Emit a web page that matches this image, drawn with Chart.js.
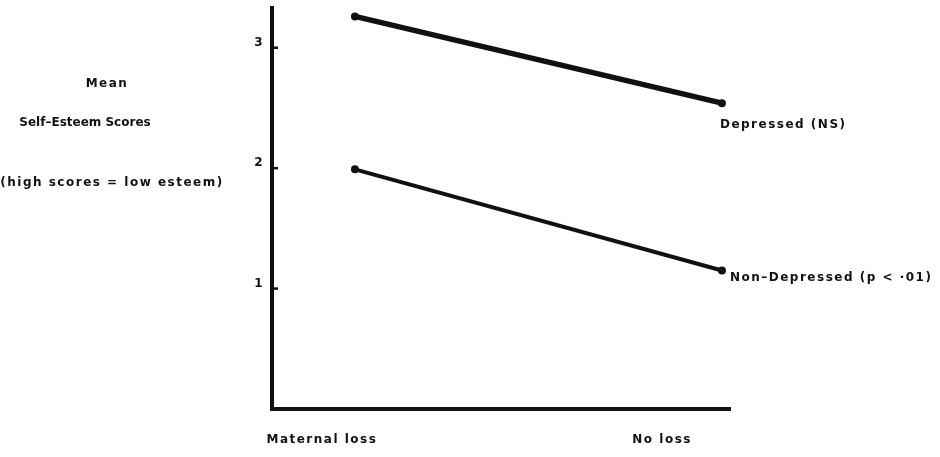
<!DOCTYPE html>
<html>
<head>
<meta charset="utf-8">
<script src="https://cdn.jsdelivr.net/npm/chart.js@4"></script>
<style>
  html, body { margin: 0; padding: 0; background: #fff; }
  canvas { display: block; }
</style>
</head>
<body>
<canvas id="chart" width="940" height="457"></canvas>
<script>
const categories = ["Maternal loss", "No loss"];
const depressed = [3.26, 2.54];
const nonDepressed = [1.99, 1.15];
const yTicks = [1, 2, 3];
const seriesLabels = ["Depressed (NS)", "Non\u2013Depressed (p < \u00b701)"];
const yTitleLines = ["Mean", "Self\u2013Esteem Scores", "(high scores = low esteem)"];

const ink = "#111";
const font = { family: "'DejaVu Sans', sans-serif", size: 12, weight: "bold" };
const fontCss = "bold 12px 'DejaVu Sans', sans-serif";
const spacing = "1.5px";

// the original type is loosely set, widen it a touch
const spacingPlugin = {
    id: "spacing",
    beforeLayout(chart) {
        chart.ctx.letterSpacing = spacing;
    },
    beforeDraw(chart) {
        chart.ctx.letterSpacing = spacing;
    },
};

// left-hand title, drawn as free text like the original
const yTitlePlugin = {
    id: "yTitle",
    afterDraw(chart) {
        const ctx = chart.ctx;
        const spots = [[107, 84], [85, 123], [112, 183]];
        const tracking = ["1.5px", "0px", "1.5px"];
        ctx.save();
        ctx.font = fontCss;
        ctx.fillStyle = ink;
        ctx.textAlign = "center";
        ctx.textBaseline = "middle";
        yTitleLines.forEach((line, i) => {
            ctx.letterSpacing = tracking[i];
            ctx.fillText(line, spots[i][0], spots[i][1]);
        });
        ctx.restore();
    },
};

// short tick marks on the inside of the y axis, plus series labels at line ends
const marksPlugin = {
    id: "marks",
    afterDatasetsDraw(chart) {
        const ctx = chart.ctx;
        const y = chart.scales.y;
        const left = chart.chartArea.left;
        ctx.save();
        ctx.strokeStyle = ink;
        ctx.lineWidth = 2.5;
        yTicks.forEach((v) => {
            const py = y.getPixelForValue(v);
            ctx.beginPath();
            ctx.moveTo(left, py);
            ctx.lineTo(left + 6, py);
            ctx.stroke();
        });

        const offsets = [{ dx: -2, dy: 22 }, { dx: 8, dy: 7 }];
        ctx.font = fontCss;
        ctx.letterSpacing = spacing;
        ctx.fillStyle = ink;
        ctx.textAlign = "left";
        ctx.textBaseline = "middle";
        chart.data.datasets.forEach((ds, i) => {
            const pts = chart.getDatasetMeta(i).data;
            const last = pts[pts.length - 1];
            ctx.fillText(seriesLabels[i], last.x + offsets[i].dx, last.y + offsets[i].dy);
        });
        ctx.restore();
    },
};

function toPoints(values) {
    return values.map((v, i) => ({ x: i, y: v }));
}

new Chart(document.getElementById("chart"), {
    type: "line",
    data: {
        datasets: [
            {
                label: seriesLabels[0],
                data: toPoints(depressed),
                borderColor: ink,
                backgroundColor: ink,
                borderWidth: 5.5,
                borderCapStyle: "round",
                pointRadius: 4,
                pointBorderWidth: 0,
                clip: false,
            },
            {
                label: seriesLabels[1],
                data: toPoints(nonDepressed),
                borderColor: ink,
                backgroundColor: ink,
                borderWidth: 4,
                borderCapStyle: "round",
                pointRadius: 4,
                pointBorderWidth: 0,
                clip: false,
            },
        ],
    },
    options: {
        responsive: false,
        animation: false,
        layout: { autoPadding: false, padding: { top: 8, right: 210, left: 0, bottom: 0 } },
        plugins: {
            legend: { display: false },
            tooltip: { enabled: false },
        },
        scales: {
            x: {
                type: "linear",
                min: -0.226,
                max: 1.022,
                afterBuildTicks: (axis) => {
                    axis.ticks = [{ value: -0.09 }, { value: 0.837 }];
                },
                afterFit: (axis) => {
                    axis.height = 48;
                    axis.paddingLeft = 0;
                    axis.paddingRight = 0;
                },
                ticks: {
                    color: ink,
                    font,
                    padding: 24,
                    autoSkip: false,
                    maxRotation: 0,
                    callback: (value, index) => categories[index],
                },
                grid: { display: false, drawTicks: false },
                border: { display: true, color: ink, width: 4 },
            },
            y: {
                min: 0,
                max: 3.33,
                afterBuildTicks: (axis) => {
                    axis.ticks = yTicks.map((v) => ({ value: v }));
                },
                afterFit: (axis) => {
                    axis.width = 272;
                    axis.paddingTop = 0;
                    axis.paddingBottom = 0;
                },
                ticks: {
                    color: ink,
                    font,
                    padding: 8,
                    labelOffset: -5,
                    callback: (value) => value,
                },
                grid: { display: false, drawTicks: false },
                border: { display: true, color: ink, width: 4 },
            },
        },
    },
    plugins: [spacingPlugin, yTitlePlugin, marksPlugin],
});
</script>
</body>
</html>
